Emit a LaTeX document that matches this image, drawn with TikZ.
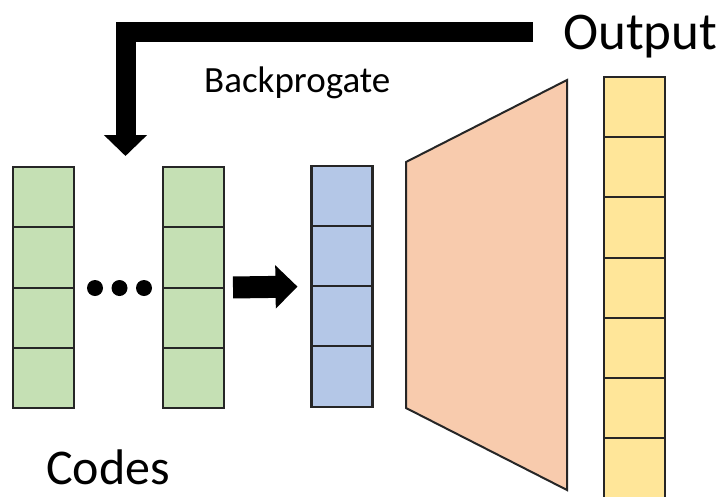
\documentclass[tikz,border=0pt]{standalone}
\usepackage{fontspec}
\setmainfont{Carlito}
\usetikzlibrary{arrows.meta}

\definecolor{codegreen}{HTML}{C5E0B4}
\definecolor{latentblue}{HTML}{B4C7E7}
\definecolor{decoderorange}{HTML}{F8CBAD}
\definecolor{outyellow}{HTML}{FFE699}
\definecolor{edge}{HTML}{262626}

\tikzset{
  cell/.style={draw=edge, line width=2.1pt, minimum width=61pt,
    minimum height=60.2pt, inner sep=0pt, outer sep=0pt},
  gcell/.style={cell, fill=codegreen},
  bcell/.style={cell, fill=latentblue},
  ycell/.style={cell, fill=outyellow},
  dotmark/.style={circle, fill=black, minimum size=16pt, inner sep=0pt},
  fatarrow/.style={line width=22pt, -{Triangle[length=22pt,width=42pt]}},
  backarrow/.style={line width=20pt, line join=miter,
    -{Triangle[length=21pt,width=42pt]}},
  label/.style={anchor=base west, inner sep=0pt, text=black}
}

\begin{document}
\begin{tikzpicture}[x=1pt, y=-1pt]
  \useasboundingbox[fill=white] (0,0) rectangle (725,496);

  % code vectors
  \foreach \i in {1,...,4} {
    \node[gcell] (ga\i) at (43.5, {137.1+60.2*\i}) {};
    \node[gcell] (gb\i) at (193.5, {137.1+60.2*\i}) {};
    \node[bcell] (bl\i) at (342, {136.5+60*\i}) {};
  }

  % ellipsis between code vectors
  \node[dotmark] (d1) at (95,288) {};
  \node[dotmark] (d2) at (119.5,288) {};
  \node[dotmark] (d3) at (144,288) {};

  % code to latent
  \draw[fatarrow, shorten <=9pt, shorten >=14pt] (gb3.north east) -- (bl3.north west);

  % decoder
  \coordinate (dtl) at (406,162);
  \coordinate (dtr) at (567,80);
  \coordinate (dbr) at (567,490);
  \coordinate (dbl) at (406,408);
  \draw[fill=decoderorange, draw=edge, line width=2pt, line join=miter]
    (dtl) -- (dtr) -- (dbr) -- (dbl) -- cycle;

  % output vector
  \foreach \i in {1,...,7} {
    \node[ycell] (y\i) at (634.5, {46.9+60.2*\i}) {};
  }

  % labels
  \node[label, font=\fontsize{53}{60}\selectfont] (out) at (563,49) {Output};
  \node[label, font=\fontsize{37}{44}\selectfont] (bp) at (204,92) {Backprogate};
  \node[label, font=\fontsize{50}{58}\selectfont] (codes) at (46,484) {Codes};

  % backpropagation path
  \coordinate (bpstart) at (533,32);
  \coordinate (bpend) at (125.5,156);
  \draw[backarrow] (bpstart) -| (bpend);
\end{tikzpicture}
\end{document}
